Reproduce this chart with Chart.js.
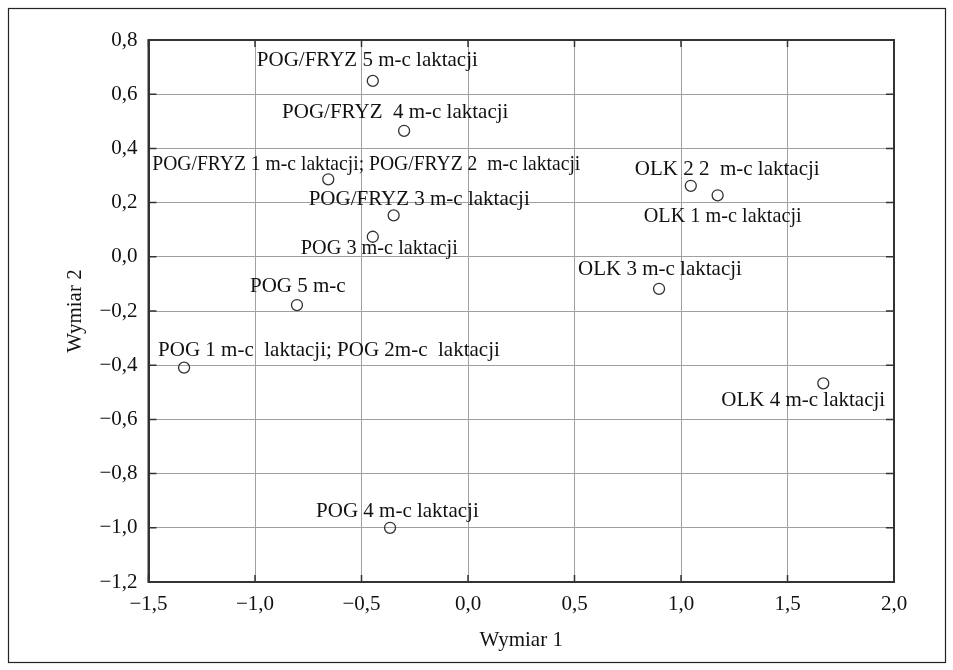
<!DOCTYPE html>
<html>
<head>
<meta charset="utf-8">
<script src="https://cdn.jsdelivr.net/npm/chart.js@4.4.0/dist/chart.umd.min.js"></script>
<style>
  html, body { margin: 0; padding: 0; background: #fff; }
  #wrap { position: relative; width: 953px; height: 670px; }
  canvas { display: block; }
</style>
</head>
<body>
<div id="wrap"><canvas id="c" width="953" height="670"></canvas></div>
<script>
// ---- data ----
const pointNames = [
  "POG/FRYZ 5 m-c laktacji",
  "POG/FRYZ  4 m-c laktacji",
  "POG/FRYZ 1 m-c laktacji; POG/FRYZ 2  m-c laktacji",
  "POG/FRYZ 3 m-c laktacji",
  "POG 3 m-c laktacji",
  "POG 5 m-c",
  "POG 1 m-c  laktacji; POG 2m-c  laktacji",
  "POG 4 m-c laktacji",
  "OLK 2 2  m-c laktacji",
  "OLK 1 m-c laktacji",
  "OLK 3 m-c laktacji",
  "OLK 4 m-c laktacji"
];
const dim1 = [-0.447, -0.300, -0.656, -0.349, -0.447, -0.803, -1.333, -0.366, 1.046, 1.172, 0.897, 1.668];
const dim2 = [0.649, 0.465, 0.286, 0.153, 0.074, -0.178, -0.409, -1.000, 0.262, 0.227, -0.118, -0.467];
const xTickValues = [-1.5, -1.0, -0.5, 0.0, 0.5, 1.0, 1.5, 2.0];
const xTickLabels = ["\u22121,5", "\u22121,0", "\u22120,5", "0,0", "0,5", "1,0", "1,5", "2,0"];
const yTickValues = [0.8, 0.6, 0.4, 0.2, 0.0, -0.2, -0.4, -0.6, -0.8, -1.0, -1.2];
const yTickLabels = ["0,8", "0,6", "0,4", "0,2", "0,0", "\u22120,2", "\u22120,4", "\u22120,6", "\u22120,8", "\u22121,0", "\u22121,2"];
const xTitle = "Wymiar 1";
const yTitle = "Wymiar 2";

// ---- label placement (pixel offsets from the point and max widths; style only) ----
const labelOffsets = [
  [-116, -20], [-122, -18], [-176, -15], [-85, -16], [-72, 12], [-47, -19],
  [-26, -17], [-74, -16.5], [-56, -16], [-74, 21], [-81, -19], [-102, 17]
];
const labelMaxWidths = [null, null, 428, null, 157, null, null, null, null, 158, null, null];

const FONT = "'Liberation Serif', 'Times New Roman', serif";
const points = dim1.map((x, i) => ({ x: x, y: dim2[i] }));

const framePlugin = {
  id: 'framePlugin',
  beforeDraw(chart) {
    const ctx = chart.ctx;
    ctx.save();
    ctx.fillStyle = '#fff';
    ctx.fillRect(0, 0, chart.width, chart.height);
    ctx.strokeStyle = '#222';
    ctx.lineWidth = 1.2;
    ctx.strokeRect(8.5, 8.5, 937, 654);
    ctx.restore();
  },
  beforeDatasetsDraw(chart) {
    const ctx = chart.ctx;
    const a = chart.chartArea;
    const xs = chart.scales.x, ys = chart.scales.y;
    ctx.save();
    ctx.strokeStyle = '#333';
    ctx.lineWidth = 1.5;
    ctx.beginPath();
    xTickValues.forEach(v => {
      const px = xs.getPixelForValue(v);
      ctx.moveTo(px, a.bottom); ctx.lineTo(px, a.bottom - 7);
      ctx.moveTo(px, a.top); ctx.lineTo(px, a.top + 7);
    });
    yTickValues.forEach(v => {
      const py = ys.getPixelForValue(v);
      ctx.moveTo(a.left, py); ctx.lineTo(a.left + 8, py);
      ctx.moveTo(a.right, py); ctx.lineTo(a.right - 8, py);
    });
    ctx.stroke();
    ctx.lineWidth = 2;
    ctx.strokeRect(a.left, a.top, a.right - a.left, a.bottom - a.top);
    ctx.restore();
  },
  afterDatasetsDraw(chart) {
    const ctx = chart.ctx;
    const xs = chart.scales.x, ys = chart.scales.y;
    ctx.save();
    ctx.font = "21px " + FONT;
    ctx.fillStyle = '#111';
    ctx.textAlign = 'left';
    ctx.textBaseline = 'middle';
    pointNames.forEach((name, i) => {
      const px = xs.getPixelForValue(dim1[i]);
      const py = ys.getPixelForValue(dim2[i]);
      const tx = px + labelOffsets[i][0], ty = py + labelOffsets[i][1];
      if (labelMaxWidths[i]) ctx.fillText(name, tx, ty, labelMaxWidths[i]);
      else ctx.fillText(name, tx, ty);
    });
    ctx.restore();
  }
};

new Chart(document.getElementById('c'), {
  type: 'scatter',
  data: {
    datasets: [{
      data: points,
      pointRadius: 5.5,
      pointHoverRadius: 5.5,
      pointBorderWidth: 1.3,
      pointBorderColor: '#333',
      pointBackgroundColor: 'rgba(255,255,255,0)',
      showLine: false
    }]
  },
  options: {
    responsive: false,
    animation: false,
    events: [],
    layout: { padding: { left: 0, top: 40, right: 59, bottom: 0 } },
    plugins: { legend: { display: false }, tooltip: { enabled: false }, title: { display: false } },
    scales: {
      x: {
        type: 'linear',
        min: -1.5, max: 2.0,
        afterBuildTicks: s => { s.ticks = xTickValues.map(v => ({ value: v })); },
        afterFit: s => { s.height = 88; },
        ticks: {
          autoSkip: false, maxRotation: 0, padding: 10,
          color: '#111', font: { family: FONT, size: 21 },
          callback: (v, i) => xTickLabels[i]
        },
        grid: { color: '#a0a0a0', lineWidth: 1, drawTicks: false },
        border: { display: true, color: '#333', width: 2 },
        title: { display: true, text: xTitle, color: '#111', font: { family: FONT, size: 21 }, padding: { top: 0, bottom: 17 } }
      },
      y: {
        type: 'linear',
        min: -1.2, max: 0.8,
        afterBuildTicks: s => { s.ticks = yTickValues.map(v => ({ value: v })); },
        afterFit: s => { s.width = 148.5; },
        ticks: {
          autoSkip: false, padding: 11,
          color: '#111', font: { family: FONT, size: 21 },
          callback: (v, i) => yTickLabels[i]
        },
        grid: { color: '#a0a0a0', lineWidth: 1, drawTicks: false },
        border: { display: true, color: '#333', width: 2 },
        title: { display: true, text: yTitle, color: '#111', font: { family: FONT, size: 21 }, padding: { top: 63, bottom: 0 } }
      }
    }
  },
  plugins: [framePlugin]
});
</script>
</body>
</html>
